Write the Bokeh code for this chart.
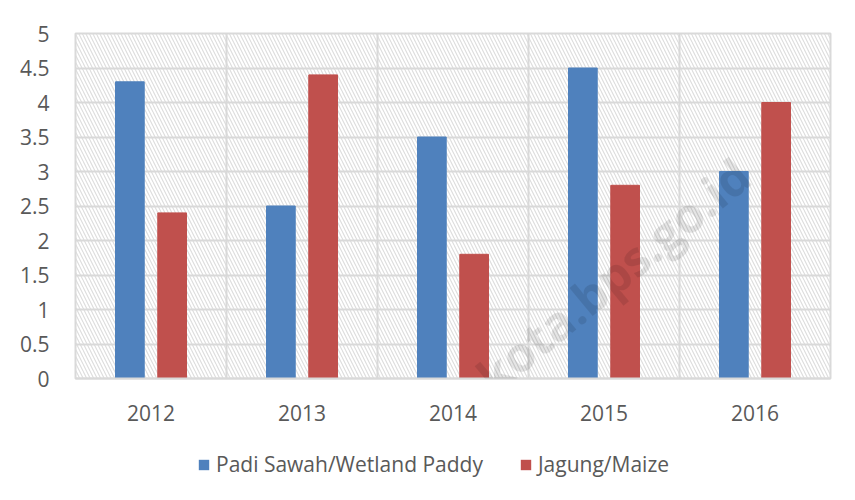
from bokeh.plotting import figure
from bokeh.layouts import column
from bokeh.models import (Range1d, FixedTicker, BoxAnnotation, Legend, LegendItem,
                          Label, ColumnDataSource)
from bokeh.transform import dodge
from bokeh.embed import file_html
from bokeh.resources import INLINE
import numpy as np

# ---- data ----
years = ["2012", "2013", "2014", "2015", "2016"]
padi = [4.3, 2.5, 3.5, 4.5, 3.0]
jagung = [2.4, 4.4, 1.8, 2.8, 4.0]
y_ticks = [0, 0.5, 1, 1.5, 2, 2.5, 3, 3.5, 4, 4.5, 5]
y_tick_labels = ["0", "0.5", "1", "1.5", "2", "2.5", "3", "3.5", "4", "4.5", "5"]
series_names = ["Padi Sawah/Wetland Paddy", "Jagung/Maize"]

BLUE = "#4F81BD"
RED = "#C0504D"
TXT = "#595959"
GRID = "#D9D9D9"
FONT = "Open Sans"

xpos = list(np.arange(len(years)) + 0.5)
src = ColumnDataSource(dict(x=xpos, padi=padi, jagung=jagung))

p = figure(width=839, height=430, output_backend="svg", toolbar_location=None,
           x_range=Range1d(0, len(years)), y_range=Range1d(0, 5),
           min_border_left=75, min_border_right=9, min_border_top=33, min_border_bottom=52)

p.background_fill_color = "white"
p.border_fill_color = "white"
p.outline_line_color = GRID
p.outline_line_width = 2

# hatched plot area
hatch = BoxAnnotation(left=0, right=len(years), bottom=0, top=5, fill_alpha=0,
                      line_color=None, hatch_pattern="\\", hatch_color="#DCDCDC",
                      hatch_scale=7, hatch_weight=1.1, level="image")
p.add_layout(hatch)

r1 = p.vbar(x=dodge("x", -0.14, range=p.x_range), top="padi", width=0.19, source=src,
            fill_color=BLUE, line_color=BLUE)
r2 = p.vbar(x=dodge("x", 0.14, range=p.x_range), top="jagung", width=0.19, source=src,
            fill_color=RED, line_color=RED)

# axes
p.xaxis.ticker = FixedTicker(ticks=xpos)
p.xaxis.major_label_overrides = {float(x): y for x, y in zip(xpos, years)}
p.yaxis.ticker = FixedTicker(ticks=y_ticks)
p.yaxis.major_label_overrides = {float(t): l for t, l in zip(y_ticks, y_tick_labels)}
for ax in (p.xaxis, p.yaxis):
    ax.major_tick_line_color = None
    ax.minor_tick_line_color = None
    ax.major_label_text_color = TXT
    ax.major_label_text_font = FONT
    ax.major_label_text_font_size = "21px"
p.xaxis.axis_line_color = GRID
p.xaxis.axis_line_width = 2
p.yaxis.axis_line_color = None
p.xaxis.major_label_standoff = 20
p.yaxis.major_label_standoff = 20

p.xgrid.ticker = FixedTicker(ticks=list(range(1, len(years))))
p.xgrid.grid_line_color = GRID
p.xgrid.grid_line_width = 2
p.ygrid.grid_line_color = GRID
p.ygrid.grid_line_width = 2

# watermark
wm = Label(x=4.42, y=3.05, text="alokota.bps.go.id", angle=0.69, text_align="right",
           text_baseline="middle", text_font=FONT, text_font_style="bold",
           text_font_size="48px", text_color="#000000", text_alpha=0.10)
p.add_layout(wm)

# legend strip below the chart (its frame is aligned with the chart's frame)
lg = figure(width=839, height=60, output_backend="svg", toolbar_location=None,
            x_axis_type=None, y_axis_type=None,
            x_range=Range1d(0, len(years)), y_range=Range1d(100, 101),
            min_border_left=75, min_border_right=9, min_border_top=0, min_border_bottom=0)
lg.outline_line_color = None
lg.grid.visible = False
lg.background_fill_color = "white"
lg.border_fill_color = "white"
# legend keys: same series drawn outside the strip's visible y-range
k1 = lg.vbar(x="x", top="padi", width=0.19, source=src, fill_color=BLUE, line_color=None)
k2 = lg.vbar(x="x", top="jagung", width=0.19, source=src, fill_color=RED, line_color=None)

legend = Legend(items=[LegendItem(label=series_names[0], renderers=[k1]),
                       LegendItem(label=series_names[1], renderers=[k2])],
                orientation="horizontal", location=(122, 12),
                glyph_width=13, glyph_height=13, label_standoff=6, spacing=36,
                padding=0, margin=0, border_line_color=None, background_fill_alpha=0,
                label_text_font=FONT, label_text_font_size="21px",
                label_text_color=TXT, label_height=20)
lg.add_layout(legend, "center")

layout = column(p, lg, spacing=0)
open("out.html", "w").write(file_html(layout, INLINE))
